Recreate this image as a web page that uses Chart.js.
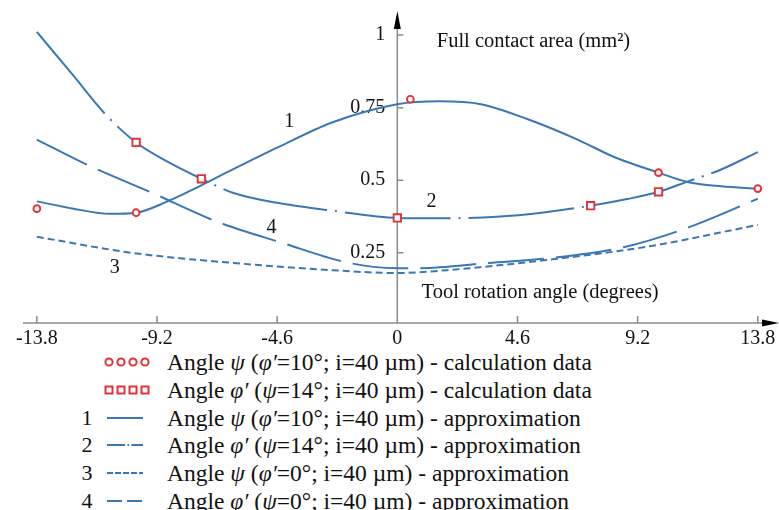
<!DOCTYPE html>
<html>
<head>
<meta charset="utf-8">
<script src="https://cdn.jsdelivr.net/npm/chart.js@4.4.0/dist/chart.umd.min.js"></script>
<style>
  body { margin: 0; background: #fff; font-family: 'Liberation Serif', 'Times New Roman', serif; color: #111; }
  #wrap { position: relative; width: 779px; height: 510px; overflow: hidden; }
  #chartBox { position: absolute; left: 0; top: 0; width: 779px; height: 347px; }
  .row { position: absolute; left: 0; width: 779px; height: 28px; line-height: 28px; font-size: 23.5px; white-space: nowrap; }
  .row .num { position: absolute; left: 80px; width: 14px; text-align: center; font-size: 22px; }
  .row svg { position: absolute; left: 104px; top: 0; }
  .row .txt { position: absolute; left: 167px; }
</style>
</head>
<body>
<div id="wrap">
  <div id="chartBox"><canvas id="chart"></canvas></div>
  <div class="row" style="top:348px">
    <svg width="48" height="28"><g fill="#fff" stroke="#e0323c" stroke-width="2">
      <circle cx="5" cy="14" r="3.6"/><circle cx="17" cy="14" r="3.6"/><circle cx="29" cy="14" r="3.6"/><circle cx="41" cy="14" r="3.6"/></g></svg>
    <span class="txt">Angle <i>ψ</i> (<i>φ′</i>=10°; i=40 µm) - calculation data</span>
  </div>
  <div class="row" style="top:376px">
    <svg width="48" height="28"><g fill="#fff" stroke="#e0323c" stroke-width="2">
      <rect x="1.5" y="10.5" width="7" height="7"/><rect x="13.5" y="10.5" width="7" height="7"/><rect x="25.5" y="10.5" width="7" height="7"/><rect x="37.5" y="10.5" width="7" height="7"/></g></svg>
    <span class="txt">Angle <i>φ′</i> (<i>ψ</i>=14°; i=40 µm) - calculation data</span>
  </div>
  <div class="row" style="top:404px">
    <span class="num">1</span>
    <svg width="48" height="28"><line x1="3" y1="14" x2="39" y2="14" stroke="#3a78b5" stroke-width="2"/></svg>
    <span class="txt">Angle <i>ψ</i> (<i>φ′</i>=10°; i=40 µm) - approximation</span>
  </div>
  <div class="row" style="top:431px">
    <span class="num">2</span>
    <svg width="48" height="28"><line x1="3" y1="14" x2="39" y2="14" stroke="#3a78b5" stroke-width="2" stroke-dasharray="18,2.5,1.5,2.5"/></svg>
    <span class="txt">Angle <i>φ′</i> (<i>ψ</i>=14°; i=40 µm) - approximation</span>
  </div>
  <div class="row" style="top:459px">
    <span class="num">3</span>
    <svg width="48" height="28"><line x1="3" y1="14" x2="39" y2="14" stroke="#3a78b5" stroke-width="2" stroke-dasharray="6,2"/></svg>
    <span class="txt">Angle <i>ψ</i> (<i>φ′</i>=0°; i=40 µm) - approximation</span>
  </div>
  <div class="row" style="top:487px">
    <span class="num">4</span>
    <svg width="48" height="28"><line x1="3" y1="14" x2="39" y2="14" stroke="#3a78b5" stroke-width="2" stroke-dasharray="15,5"/></svg>
    <span class="txt">Angle <i>φ′</i> (<i>ψ</i>=0°; i=40 µm) - approximation</span>
  </div>
</div>
<script>
// tick labels
const xTicks = [-13.8, -9.2, -4.6, 0, 4.6, 9.2, 13.8];
const yTicks = [0.25, 0.5, 0.75, 1];

// calculation data (markers)
const calcPsiX = [-13.8, -10, 0.5, 10, 13.8];
const calcPsiY = [0.402, 0.388, 0.779, 0.526, 0.471];
const calcPhiX = [-10, -7.5, 0, 7.4, 10];
const calcPhiY = [0.630, 0.505, 0.370, 0.412, 0.460];

// approximation curves
const approx1X = [-13.8, -12.4, -11, -10, -8.8, -7.6, -6.3, -4.6, -2.5, 0, 1.6, 3.2, 5, 6.9, 8.3, 10, 11.1, 12.4, 13.8];
const approx1Y = [0.427, 0.402, 0.384, 0.388, 0.427, 0.478, 0.537, 0.612, 0.699, 0.762, 0.772, 0.762, 0.71, 0.64, 0.58, 0.526, 0.494, 0.479, 0.471];

const approx2X = [-13.8, -12.4, -11.1, -10, -8.8, -7.5, -6.3, -4.6, -2.5, 0, 1.8, 3.8, 5.6, 7.4, 8.8, 10, 11.1, 12.4, 13.8];
const approx2Y = [1.011, 0.86, 0.72, 0.63, 0.564, 0.505, 0.457, 0.422, 0.395, 0.37, 0.369, 0.374, 0.389, 0.412, 0.435, 0.46, 0.495, 0.537, 0.597];

const approx3X = [-13.8, -10.1, -6.3, -2.5, 0, 1.9, 5.7, 9.5, 13.8];
const approx3Y = [0.305, 0.249, 0.215, 0.19, 0.18, 0.19, 0.225, 0.27, 0.346];

const approx4X = [-13.8, -11.8, -9.4, -6.9, -4.4, -1.85, 0, 0.8, 3.5, 6.2, 8.7, 11.2, 13.8];
const approx4Y = [0.64, 0.55, 0.457, 0.357, 0.284, 0.215, 0.197, 0.197, 0.215, 0.235, 0.27, 0.339, 0.436];

const blue = '#3a78b5';
const red = '#e0323c';
const fontFamily = "'Liberation Serif', 'Times New Roman', serif";

function toPoints(xs, ys) {
    return xs.map((x, i) => ({ x: x, y: ys[i] }));
}

function lineSet(xs, ys, dash) {
    return {
        type: 'line',
        data: toPoints(xs, ys),
        borderColor: blue,
        borderWidth: 2,
        borderDash: dash,
        pointRadius: 0,
        fill: false,
        cubicInterpolationMode: 'monotone'
    };
}

function noPadding(scale) {
    scale.paddingLeft = 0;
    scale.paddingRight = 0;
    scale.paddingTop = 0;
    scale.paddingBottom = 0;
}

// axes with arrows, inward tick marks, and in-plot text
const axesPlugin = {
    id: 'axesPlugin',
    beforeDatasetsDraw(chart) {
        const ctx = chart.ctx;
        const xs = chart.scales.x, ys = chart.scales.y;
        const area = chart.chartArea;
        const x0 = xs.getPixelForValue(0);
        const yb = area.bottom;
        const xEnd = chart.width;
        ctx.save();
        ctx.strokeStyle = '#8a8a8a';
        ctx.lineWidth = 1.5;
        ctx.beginPath();
        ctx.moveTo(area.left, yb);
        ctx.lineTo(xEnd - 10, yb);
        ctx.moveTo(x0, yb);
        ctx.lineTo(x0, area.top + 12);
        xTicks.forEach(v => {
            const px = xs.getPixelForValue(v);
            ctx.moveTo(px, yb);
            ctx.lineTo(px, yb - 7);
        });
        yTicks.forEach(v => {
            const py = ys.getPixelForValue(v);
            ctx.moveTo(x0, py);
            ctx.lineTo(x0 + 6, py);
        });
        ctx.stroke();
        ctx.fillStyle = '#000';
        ctx.beginPath();
        ctx.moveTo(xEnd, yb);
        ctx.lineTo(xEnd - 17, yb - 3.5);
        ctx.lineTo(xEnd - 17, yb + 3.5);
        ctx.closePath();
        ctx.fill();
        ctx.beginPath();
        ctx.moveTo(x0, area.top);
        ctx.lineTo(x0 - 3.5, area.top + 18);
        ctx.lineTo(x0 + 3.5, area.top + 18);
        ctx.closePath();
        ctx.fill();
        ctx.restore();
    },
    afterDraw(chart) {
        const ctx = chart.ctx;
        const xs = chart.scales.x, ys = chart.scales.y;
        ctx.save();
        ctx.fillStyle = '#111';
        ctx.font = '20px ' + fontFamily;
        ctx.textBaseline = 'middle';
        ctx.textAlign = 'center';
        [['1', -4.14, 0.703], ['2', 1.31, 0.426], ['3', -10.82, 0.197], ['4', -4.82, 0.336]].forEach(t => {
            ctx.fillText(t[0], xs.getPixelForValue(t[1]), ys.getPixelForValue(t[2]));
        });
        ctx.textAlign = 'left';
        ctx.font = '20.5px ' + fontFamily;
        ctx.fillText('Full contact area (mm²)', xs.getPixelForValue(1.51), ys.getPixelForValue(0.976));
        ctx.fillText('Tool rotation angle (degrees)', xs.getPixelForValue(0.93), ys.getPixelForValue(0.114));
        ctx.restore();
    }
};

const ctx = document.getElementById('chart').getContext('2d');
new Chart(ctx, {
    type: 'scatter',
    data: {
        datasets: [
            {
                data: toPoints(calcPsiX, calcPsiY),
                pointStyle: 'circle',
                pointRadius: 3.4,
                borderWidth: 1.9,
                borderColor: red,
                backgroundColor: '#fff'
            },
            {
                data: toPoints(calcPhiX, calcPhiY),
                pointStyle: 'rect',
                pointRadius: 5.2,
                borderWidth: 1.9,
                borderColor: red,
                backgroundColor: '#fff'
            },
            lineSet(approx1X, approx1Y, []),
            lineSet(approx2X, approx2Y, [106, 8, 2, 8]),
            lineSet(approx3X, approx3Y, [7, 4]),
            lineSet(approx4X, approx4Y, [56, 12])
        ]
    },
    options: {
        responsive: true,
        maintainAspectRatio: false,
        animation: false,
        layout: { padding: { left: 23, right: 0, top: 11, bottom: 0 } },
        plugins: { legend: { display: false }, tooltip: { enabled: false } },
        scales: {
            x: {
                type: 'linear',
                min: -14.33,
                max: 14.34,
                grid: { display: false },
                border: { display: false },
                afterBuildTicks: scale => { scale.ticks = xTicks.map(v => ({ value: v })); },
                afterFit: noPadding,
                ticks: {
                    autoSkip: false,
                    maxRotation: 0,
                    padding: -4,
                    color: '#111',
                    font: { family: fontFamily, size: 20 },
                    callback: v => String(v)
                }
            },
            y: {
                type: 'linear',
                // labels sit a little left of the drawn axis at x = 0
                position: { x: -0.46 },
                min: 0.008,
                max: 1.083,
                grid: { display: false },
                border: { display: false },
                afterBuildTicks: scale => { scale.ticks = yTicks.map(v => ({ value: v })); },
                afterFit: noPadding,
                ticks: {
                    color: '#111',
                    font: { family: fontFamily, size: 20 },
                    callback: v => String(v)
                }
            }
        }
    },
    plugins: [axesPlugin]
});
</script>
</body>
</html>
